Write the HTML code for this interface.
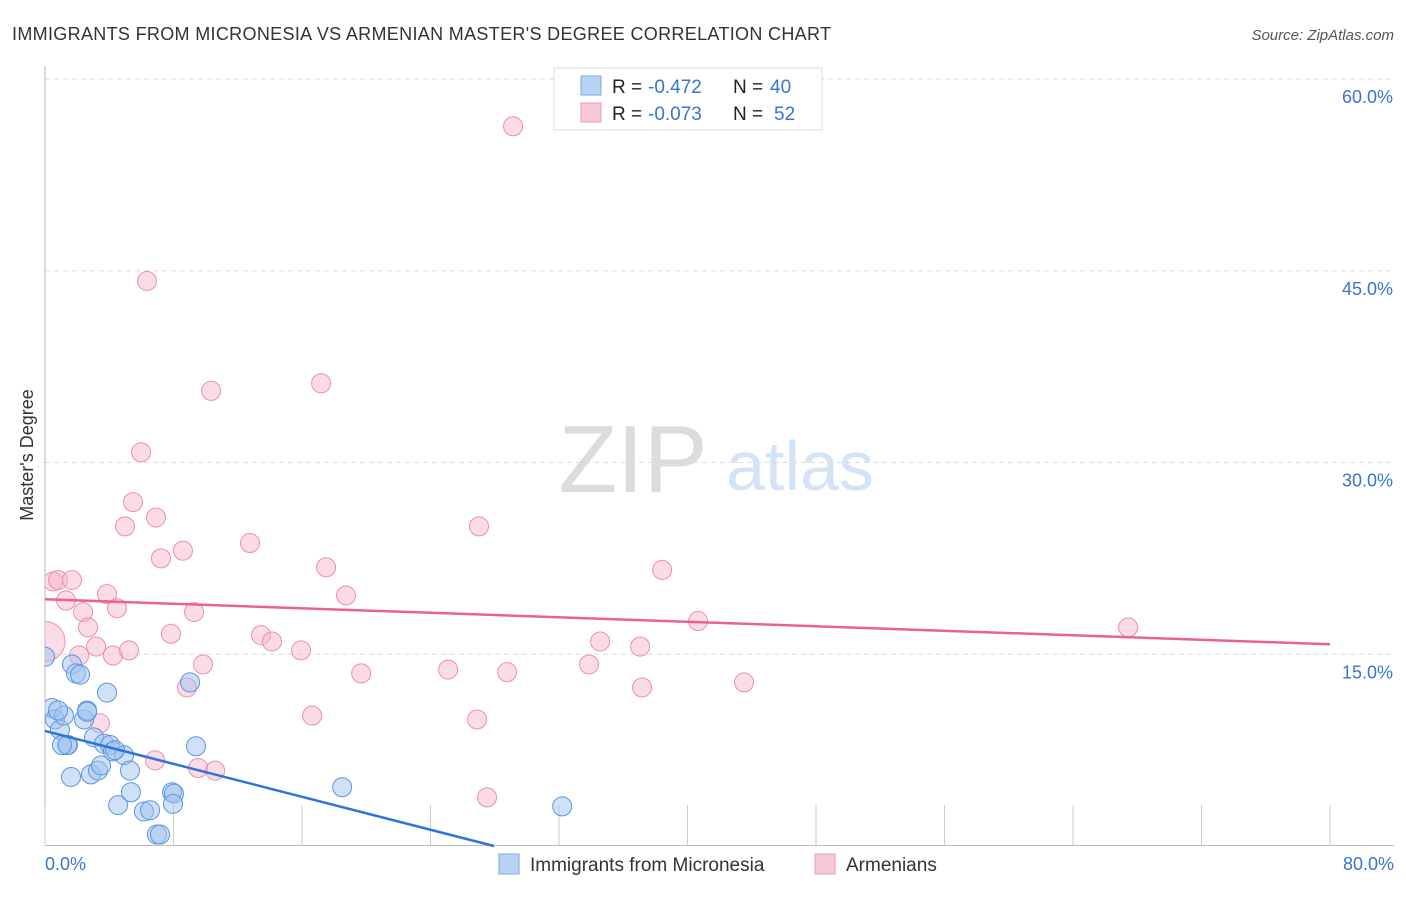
<!DOCTYPE html>
<html><head><meta charset="utf-8"><style>
body{margin:0;background:#fff;font-family:"Liberation Sans",sans-serif;}
svg text{font-family:"Liberation Sans",sans-serif;}
</style></head><body>
<svg id="chart" width="1406" height="892" xmlns="http://www.w3.org/2000/svg">
<defs><clipPath id="plotclip"><rect x="45" y="60" width="1360" height="786"/></clipPath></defs>
<text x="12" y="40" font-size="18" fill="#333" textLength="819">IMMIGRANTS FROM MICRONESIA VS ARMENIAN MASTER'S DEGREE CORRELATION CHART</text>
<text x="1394" y="40" font-size="15" fill="#555" font-style="italic" text-anchor="end">Source: ZipAtlas.com</text>
<text transform="translate(33,455) rotate(-90)" font-size="18" fill="#333" text-anchor="middle">Master's Degree</text>
<g>
<text x="633" y="492" font-size="96" font-family="Liberation Serif,serif" fill="#dcdcdc" text-anchor="middle">ZIP</text>
<text x="800" y="490" font-size="70" fill="#d4e3f6" text-anchor="middle">atlas</text>
</g>
<g id="grid"></g>
<g id="axes"></g>
<g id="points" clip-path="url(#plotclip)"></g>
<g id="lines"></g>
<g>
<rect x="554" y="68" width="268" height="62" fill="#fff" stroke="#ddd"/>
<rect x="581" y="76" width="20" height="19" fill="#b9d3f5" stroke="#7aa8e6"/>
<rect x="581" y="103" width="20" height="19" fill="#f9c8d6" stroke="#eb98b3"/>
<text x="612" y="93" font-size="19" fill="#222">R =</text>
<text x="648" y="93" font-size="19" fill="#3a74d0">-0.472</text>
<text x="733" y="93" font-size="19" fill="#222">N =</text>
<text x="770" y="93" font-size="19" fill="#3a74d0">40</text>
<text x="612" y="120" font-size="19" fill="#222">R =</text>
<text x="648" y="120" font-size="19" fill="#3a74d0">-0.073</text>
<text x="733" y="120" font-size="19" fill="#222">N =</text>
<text x="774" y="120" font-size="19" fill="#3a74d0">52</text>
</g>
<g>
<rect x="499" y="854" width="20" height="20" fill="#b9d3f5" stroke="#7aa8e6"/>
<text x="530" y="871" font-size="19" fill="#333">Immigrants from Micronesia</text>
<rect x="815" y="854" width="20" height="20" fill="#f9c8d6" stroke="#eb98b3"/>
<text x="846" y="871" font-size="19" fill="#333">Armenians</text>
</g>
</svg>
<script>
const blueX=[0,0.44,0.62,0.93,1.18,1.37,1.43,1.68,1.62,1.93,2.18,2.43,2.62,2.62,2.86,3.05,3.30,3.49,3.86,3.67,4.05,4.23,4.55,4.92,5.29,5.35,6.16,6.54,6.97,7.16,7.91,8.03,7.97,9.03,9.40,18.5,32.2,4.36,1.06,0.81];
const blueY=[14.8,10.8,9.9,9.1,10.2,7.9,7.9,14.2,5.4,13.5,13.4,9.9,10.6,10.5,5.6,8.5,5.9,6.3,12.0,8.0,7.9,7.4,3.2,7.1,5.9,4.2,2.7,2.8,0.9,0.9,4.2,4.1,3.3,12.8,7.8,4.6,3.1,7.5,7.9,10.6];
const pinkX=[0,0.5,0.81,1.68,1.31,2.37,2.68,3.18,2.12,3.86,4.48,4.23,5.23,3.42,4.98,5.48,5.98,6.35,6.91,7.22,7.84,8.59,8.84,9.28,9.84,10.34,9.53,10.59,6.85,12.76,13.45,14.13,15.94,16.63,17.19,17.50,18.74,19.68,25.10,26.90,27.02,27.52,28.77,29.14,33.87,34.56,37.05,37.17,38.42,40.66,43.52,67.43];
const pinkY=[16.0,20.7,20.8,20.8,19.2,18.3,17.1,15.6,14.9,19.7,18.6,14.9,15.3,9.6,25.0,26.9,30.8,44.2,25.7,22.5,16.6,23.1,12.4,18.3,14.2,35.6,6.1,5.9,6.7,23.7,16.5,16.0,15.3,10.2,36.2,21.8,19.6,13.5,13.8,9.9,25.0,3.8,13.6,56.3,14.2,16.0,15.6,12.4,21.6,17.6,12.8,17.1];
const blueTrend=[9.0,-0.322];
const pinkTrend=[19.3,-0.044];
const yTicks=[15,30,45,60];
const xTicks=[0,8,16,24,32,40,48,56,64,72,80];
const NS="http://www.w3.org/2000/svg";
const X0=45,X1=1330,Y0=846,Y60=79;
function sx(v){return X0+(v/80)*(X1-X0);}
function sy(v){return Y0-(v/60)*(Y0-Y60);}
function mk(tag,attrs,parent){const e=document.createElementNS(NS,tag);for(const k in attrs)e.setAttribute(k,attrs[k]);document.getElementById(parent).appendChild(e);return e;}
yTicks.forEach(t=>{
  const l=mk('line',{x1:45,x2:1394,y1:sy(t),y2:sy(t),stroke:'#ddd','stroke-dasharray':'5,4'},'grid');
  
  
  const tx=mk('text',{x:1393,y:sy(t)+24,'font-size':18,fill:'#3a74d0','text-anchor':'end'},'grid');
  tx.textContent=t.toFixed(1)+'%';
  
  
});
const la=mk('line',{x1:45,x2:45,y1:66,y2:846,stroke:'#bbb'},'axes');


const ba=mk('line',{x1:45,x2:1394,y1:845.5,y2:845.5,stroke:'#bbb'},'axes');


xTicks.forEach(t=>{
  const l=mk('line',{x1:sx(t),x2:sx(t),y1:805,y2:846,stroke:'#ccc'},'axes');
  
  
});
[[0,'0.0%','start',45],[80,'80.0%','end',1394]].forEach(a=>{
  const tx=mk('text',{x:a[3],y:870,'font-size':18,fill:'#3a74d0','text-anchor':a[2]},'axes');
  tx.textContent=a[1];
  
  
});
pinkX.forEach((x,i)=>{
  const c=mk('circle',{cx:sx(x),cy:sy(pinkY[i]),r:i===0?20:9.5,fill:'rgba(246,176,199,0.45)',stroke:'#ec8fae','stroke-width':1},'points');
  
  
});
blueX.forEach((x,i)=>{
  const c=mk('circle',{cx:sx(x),cy:sy(blueY[i]),r:9.5,fill:'rgba(160,196,240,0.5)',stroke:'#5b95e0','stroke-width':1},'points');
  
  
});
const bxEnd=-blueTrend[0]/blueTrend[1];
const bl=mk('line',{x1:sx(0),y1:sy(blueTrend[0]),x2:sx(bxEnd),y2:sy(0),stroke:'#2f74d8','stroke-width':2.5},'lines');


const pl=mk('line',{x1:sx(0),y1:sy(pinkTrend[0]),x2:sx(80),y2:sy(pinkTrend[0]+80*pinkTrend[1]),stroke:'#e8648f','stroke-width':2.5},'lines');


</script>
</body></html>
